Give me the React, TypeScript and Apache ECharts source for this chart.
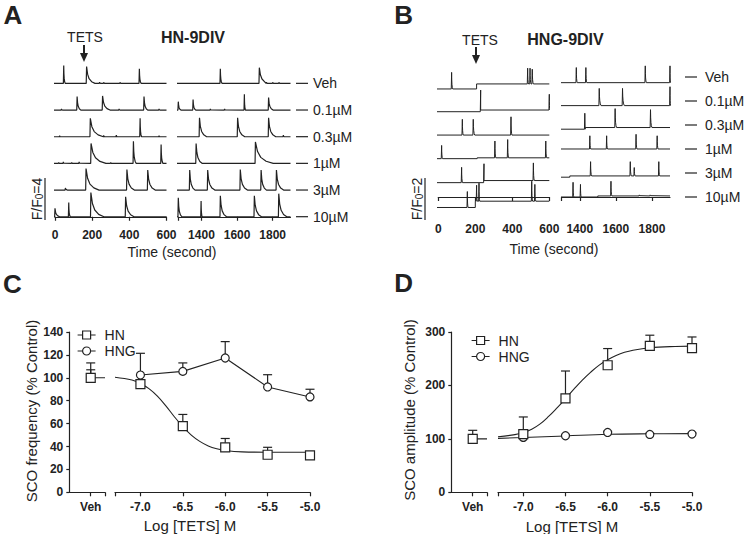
import { useEffect, useRef } from 'react';
import * as echarts from 'echarts';

const FONT = "'Liberation Sans', Arial, Helvetica, sans-serif";
const INK = '#222';

// ---------- Panels A & B: Ca2+ oscillation traces ----------
const CONCENTRATIONS = ['Veh', '0.1µM', '0.3µM', '1µM', '3µM', '10µM'];

type Spike = [number, number, number]; // [time (s), amplitude (ΔF/F0), decay to baseline (s)]
type Step = [number, number]; // [time (s), baseline level (ΔF/F0)]

const A_LEFT_SPIKES: Spike[][] = [
  [[47, 1.7, 8], [170, 1.6, 45], [240, 0.12, 6], [262, 0.1, 6], [350, 0.1, 6], [454, 1.4, 10]],
  [[35, 0.1, 5], [119, 1.3, 20], [256, 1.35, 40], [345, 0.1, 5], [479, 1.3, 20], [560, 0.1, 5]],
  [[25, 0.1, 5], [190, 1.75, 70], [262, 0.12, 5], [330, 0.15, 5], [458, 1.75, 8], [560, 0.1, 5]],
  [[20, 0.1, 5], [45, 0.15, 5], [90, 0.1, 5], [130, 0.15, 5], [194, 1.9, 80], [300, 0.1, 5], [422, 2.1, 15], [571, 1.8, 10]],
  [[56, 0.2, 12], [167, 2.05, 70], [387, 1.95, 40], [499, 1.9, 40]],
  [[0, 0.8, 25], [74, 1.35, 8], [193, 2.3, 70], [380, 1.9, 45]],
];
const A_RIGHT_SPIKES: Spike[][] = [
  [[1506, 1.4, 10], [1725, 1.5, 50], [1765, 0.12, 6], [1800, 0.1, 6], [1835, 0.1, 6]],
  [[1270, 0.8, 15], [1353, 1.0, 15], [1450, 0.1, 5], [1530, 0.1, 5], [1641, 1.5, 6], [1777, 1.2, 25]],
  [[1389, 1.8, 40], [1603, 1.8, 40], [1777, 1.8, 40], [1860, 0.15, 5]],
  [[1370, 1.9, 35], [1703, 2.05, 100]],
  [[1334, 1.9, 30], [1435, 1.9, 40], [1618, 1.95, 40], [1735, 1.9, 30], [1821, 1.9, 40]],
  [[1270, 1.8, 20], [1398, 1.5, 6], [1506, 2.0, 35], [1697, 2.0, 40], [1834, 2.2, 45]],
];

const B_LEFT_SPIKES: Spike[][] = [
  [[72, 0.79, 6], [483, 0.75, 5], [496, 0.75, 5], [508, 0.7, 6]],
  [[229, 0.95, 20], [600, 0.75, 3]],
  [[130, 0.75, 5], [189, 0.75, 8], [393, 0.87, 5]],
  [[18, 0.63, 5], [306, 0.8, 5], [375, 0.87, 5], [581, 0.8, 5]],
  [[126, 0.73, 5], [247, 0.8, 5], [514, 0.84, 5]],
  [[157, 0.76, 4], [207, 0.76, 4], [220, 0.86, 4], [505, 0.95, 5], [522, 0.8, 5]],
];
const B_LEFT_BASE: Step[][] = [
  [[0, -0.57], [207, -0.33]],
  [[0, -0.51], [229, -0.43]],
  [[0, -0.48]],
  [[0, -0.46], [210, -0.42]],
  [[0, -0.46], [247, -0.36]],
  [[0, -0.5], [200, -0.2]],
];
const B_RIGHT_SPIKES: Spike[][] = [
  [[1381, 0.72, 5], [1434, 0.72, 5], [1763, 0.8, 6], [1900, 0.8, 3]],
  [[1508, 0.82, 10], [1637, 0.82, 10], [1900, 0.9, 3]],
  [[1428, 0.76, 8], [1596, 0.9, 8], [1792, 0.85, 8]],
  [[1456, 0.63, 5], [1549, 0.63, 5], [1712, 0.7, 5], [1829, 0.63, 5]],
  [[1460, 0.68, 6], [1680, 0.68, 6], [1702, 0.4, 5], [1838, 0.68, 5]],
  [[1363, 0.7, 4], [1404, 0.6, 4], [1573, 0.7, 5], [1730, 0.05, 4], [1790, 0.05, 4]],
];
const B_RIGHT_BASE: Step[][] = [
  [[1300, -0.27]],
  [[1300, -0.22]],
  [[1300, -0.2], [1430, -0.12]],
  [[1300, 0]],
  [[1300, -0.2], [1345, -0.14]],
  [[1300, 0], [1500, 0.05]],
];

const A_LEFT_RANGE = [0, 600];
const A_RIGHT_RANGE = [1270, 1900];
const B_LEFT_RANGE = [0, 600];
const B_RIGHT_RANGE = [1300, 1900];
const LEFT_TICKS = [0, 200, 400, 600];
const RIGHT_TICK_LABELS = [1400, 1600, 1800];

// ---------- Panels C & D: concentration-response ----------
const LOG_DOSES = [-7.0, -6.5, -6.0, -5.5, -5.0];

const C_VEH_HN = [100, 7]; // [mean, SEM]
const C_VEH_HNG = [100, 13];
const C_HN_MEAN = [94.5, 57.8, 39.3, 32.8, 32.2];
const C_HN_SEM = [3, 10.2, 7.7, 6.5, 1];
const C_HNG_MEAN = [102.4, 105.6, 117.3, 92, 83.3];
const C_HNG_SEM = [19, 7.4, 14.3, 10.7, 6.7];
const C_HN_FIT_X = [-7.3, -7.1, -7.0, -6.9, -6.8, -6.7, -6.6, -6.5, -6.4, -6.3, -6.2, -6.1, -6.0, -5.8, -5.5, -5.0];
const C_HN_FIT_Y = [100.5, 98, 95, 90.5, 84, 75.5, 66, 57.5, 50, 44.5, 40.5, 38, 36.5, 35.3, 35, 35];
const C_Y_TICKS = [0, 140, 20];

const D_VEH_HN = [100, 16];
const D_VEH_HNG = [100, 0];
const D_HN_MEAN = [109, 175.6, 237.8, 274, 270];
const D_HN_SEM = [32, 51.4, 31.2, 20, 20.7];
const D_HNG_MEAN = [102.7, 105.8, 112, 108.3, 109];
const D_HNG_SEM = [2, 2, 2, 2, 2];
const D_HN_FIT_X = [-7.3, -7.1, -7.0, -6.9, -6.8, -6.7, -6.6, -6.5, -6.4, -6.3, -6.2, -6.1, -6.0, -5.9, -5.8, -5.7, -5.5, -5.2, -5.0];
const D_HN_FIT_Y = [104, 108, 112, 118, 128, 142, 158, 175, 193, 210, 225, 238, 248, 256, 262, 266, 270.5, 273, 273.5];
const D_HNG_FIT_X = [-7.3, -7.0, -6.5, -6.0, -5.5, -5.0];
const D_HNG_FIT_Y = [101, 102.5, 105.5, 108.5, 109.5, 109.8];
const D_Y_TICKS = [0, 300, 100];

const LOG_RANGE = [-7.3, -5.0];
const VEH_POS = 0.6; // position of the Veh point inside its short axis segment [0, 1]

// ---------- helpers ----------
const DECAY = [
  [0.12, 0.55],
  [0.3, 0.28],
  [0.6, 0.1],
  [1, 0],
];

function buildTrace(spikes: Spike[], steps: Step[], tMin: number, tMax: number, offset: number) {
  const baseAt = (t: number) => {
    let b = steps[0][1];
    for (const s of steps) if (s[0] <= t) b = s[1];
    return b;
  };
  const evs: any[] = [
    ...spikes.map((s) => ({ t: s[0], kind: 'spike', a: s[1], d: s[2] })),
    ...steps.slice(1).map((s) => ({ t: s[0], kind: 'step' })),
  ].sort((p, q) => p.t - q.t);
  const pts: number[][] = [];
  const push = (t: number, v: number) => {
    if (pts.length && t <= pts[pts.length - 1][0]) return;
    pts.push([t, v + offset]);
  };
  push(tMin - 10, baseAt(tMin));
  evs.forEach((e, i) => {
    const next = i + 1 < evs.length ? evs[i + 1].t : Infinity;
    if (e.kind === 'step') {
      push(e.t - 0.01, baseAt(e.t - 0.01));
      push(e.t + 0.01, baseAt(e.t));
      return;
    }
    push(e.t - 2, baseAt(e.t - 2));
    push(e.t, baseAt(e.t) + e.a);
    for (const [f, k] of DECAY) {
      const tt = e.t + f * e.d;
      if (tt < next - 2) push(tt, baseAt(tt) + e.a * k);
    }
  });
  push(tMax, baseAt(tMax));
  return pts;
}

const zip = (xs: number[], ys: number[]) => xs.map((x, i) => [x, ys[i]]);
const zip3 = (xs: number[], ys: number[], es: number[]) => xs.map((x, i) => [x, ys[i], es[i]]);

function txt(text: string, x: number, y: number, o: any = {}) {
  return {
    type: 'text',
    x,
    y,
    rotation: o.rotation || 0,
    silent: true,
    style: {
      text,
      fill: INK,
      fontFamily: FONT,
      fontSize: o.size || 14,
      fontWeight: o.weight || 'normal',
      align: o.align || 'center',
      verticalAlign: 'middle',
      rich: o.rich,
    },
  };
}
function ln(x1: number, y1: number, x2: number, y2: number, w = 1.2) {
  return { type: 'line', silent: true, shape: { x1, y1, x2, y2 }, style: { stroke: INK, lineWidth: w } };
}

const tickStyle = { lineStyle: { color: INK, width: 1.2 }, length: 4 };
const lineStyleAxis = { lineStyle: { color: INK, width: 1.2 } };
const labelStyle = { color: INK, fontFamily: FONT, fontWeight: 'bold', fontSize: 12 };

function errSeries(data: number[][], idx: number) {
  return {
    type: 'custom',
    xAxisIndex: idx,
    yAxisIndex: idx,
    z: 3,
    silent: true,
    data,
    encode: { x: 0, y: 1 },
    renderItem: (_p: any, api: any) => {
      const x = api.value(0);
      const y = api.value(1);
      const e = api.value(2);
      const p0 = api.coord([x, y]);
      const p1 = api.coord([x, y + e]);
      const st = { stroke: INK, lineWidth: 1.2 };
      return {
        type: 'group',
        children: [
          { type: 'line', shape: { x1: p0[0], y1: p0[1], x2: p1[0], y2: p1[1] }, style: st },
          { type: 'line', shape: { x1: p1[0] - 4.5, y1: p1[1], x2: p1[0] + 4.5, y2: p1[1] }, style: st },
        ],
      };
    },
  };
}

function markerSeries(name: string, data: number[][], idx: number, sq: boolean) {
  return {
    type: 'scatter',
    name,
    xAxisIndex: idx,
    yAxisIndex: idx,
    data,
    symbol: sq ? 'rect' : 'circle',
    symbolSize: sq ? 9 : 8,
    z: sq ? 6 : 5,
    itemStyle: { color: '#fff', borderColor: INK, borderWidth: 1.2, opacity: 1 },
    silent: true,
  };
}

function curveSeries(name: string, data: number[][], idx: number, smooth: boolean) {
  return {
    type: 'line',
    name,
    xAxisIndex: idx,
    yAxisIndex: idx,
    data,
    smooth: smooth ? 0.4 : false,
    symbol: 'none',
    z: 2,
    lineStyle: { color: INK, width: 1.1 },
    silent: true,
  };
}

const HN_ICON = 'path://M0,5L5,5M5,1L13,1L13,9L5,9ZM13,5L18,5';
const HNG_ICON = 'path://M0,5L5,5M5,5A4,4,0,1,1,13,5A4,4,0,1,1,5,5ZM13,5L18,5';

function buildOption() {
  const grids: any[] = [
    { left: 55, top: 48.75, width: 111.5, height: 173.25 }, // A left
    { left: 178.3, top: 48.75, width: 112.2, height: 173.25 }, // A right
    { left: 438.3, top: 39.5, width: 111, height: 176.5 }, // B left
    { left: 561.7, top: 39.5, width: 108.3, height: 176.5 }, // B right
    { left: 69.3, top: 332, width: 35.7, height: 160.3 }, // C veh
    { left: 115, top: 332, width: 195, height: 160.3 }, // C log
    { left: 451.3, top: 332, width: 35.7, height: 160.3 }, // D veh
    { left: 498, top: 332, width: 194, height: 160.3 }, // D log
  ].map((g) => ({ ...g, outerBoundsMode: 'none', containLabel: false }));

  const traceX = (gi: number, range: number[], left: boolean, margin: number) => ({
    gridIndex: gi,
    type: 'value',
    min: range[0],
    max: range[1],
    axisLine: lineStyleAxis,
    axisTick: { ...tickStyle, customValues: left ? LEFT_TICKS : [range[0], ...RIGHT_TICK_LABELS] },
    axisLabel: {
      ...labelStyle,
      margin,
      customValues: left ? LEFT_TICKS : RIGHT_TICK_LABELS,
      formatter: (v: number) => String(v),
    },
    splitLine: { show: false },
  });

  const vehX = (gi: number) => ({
    gridIndex: gi,
    type: 'value',
    min: 0,
    max: 1,
    axisLine: lineStyleAxis,
    axisTick: { ...tickStyle, customValues: [VEH_POS, 1] },
    axisLabel: { ...labelStyle, margin: 9, customValues: [VEH_POS], formatter: () => 'Veh' },
    splitLine: { show: false },
  });
  const logX = (gi: number) => ({
    gridIndex: gi,
    type: 'value',
    min: LOG_RANGE[0],
    max: LOG_RANGE[1],
    axisLine: lineStyleAxis,
    axisTick: { ...tickStyle, customValues: [LOG_RANGE[0], ...LOG_DOSES] },
    axisLabel: { ...labelStyle, margin: 9, customValues: LOG_DOSES, formatter: (v: number) => v.toFixed(1) },
    splitLine: { show: false },
  });

  const A_PX = 10.5; // px per F/F0 unit (F/F0 = 4 -> 42 px)
  const B_PX = 21; // F/F0 = 2 -> 42 px
  const A_ROW = 26.67 / A_PX;
  const B_ROW = 24 / B_PX;

  const hiddenY = (gi: number, min: number, max: number) => ({ gridIndex: gi, type: 'value', min, max, show: false });
  const doseY = (gi: number, t: number[]) => ({
    gridIndex: gi,
    type: 'value',
    min: t[0],
    max: t[1],
    interval: t[2],
    axisLine: { show: true, ...lineStyleAxis },
    axisTick: { show: true, lineStyle: { color: INK, width: 1.2 }, length: 3 },
    axisLabel: { ...labelStyle, margin: 6 },
    splitLine: { show: false },
  });

  const xAxis = [
    traceX(0, A_LEFT_RANGE, true, 7),
    traceX(1, A_RIGHT_RANGE, false, 7),
    traceX(2, B_LEFT_RANGE, true, 7),
    traceX(3, B_RIGHT_RANGE, false, 7),
    vehX(4),
    logX(5),
    vehX(6),
    logX(7),
  ];
  const yAxis = [
    hiddenY(0, -0.5, 16),
    hiddenY(1, -0.5, 16),
    hiddenY(2, -0.905, 7.5),
    hiddenY(3, -0.905, 7.5),
    doseY(4, C_Y_TICKS),
    hiddenY(5, C_Y_TICKS[0], C_Y_TICKS[1]),
    doseY(6, D_Y_TICKS),
    hiddenY(7, D_Y_TICKS[0], D_Y_TICKS[1]),
  ];

  const series: any[] = [];
  // markers first so the legend takes its icon style from them
  series.push(markerSeries('HN', zip(LOG_DOSES, C_HN_MEAN), 5, true));
  series.push(markerSeries('HNG', zip(LOG_DOSES, C_HNG_MEAN), 5, false));
  series.push(markerSeries('HN', [[VEH_POS, C_VEH_HN[0]]], 4, true));
  series.push(markerSeries('HNG', [[VEH_POS, C_VEH_HNG[0]]], 4, false));
  series.push(curveSeries('HN', zip(C_HN_FIT_X, C_HN_FIT_Y), 5, true));
  series.push(curveSeries('HNG', zip(LOG_DOSES, C_HNG_MEAN), 5, false));
  series.push(curveSeries('HN', [[VEH_POS, C_VEH_HN[0]], [1, C_VEH_HN[0]]], 4, false));
  series.push(errSeries(zip3(LOG_DOSES, C_HN_MEAN, C_HN_SEM), 5));
  series.push(errSeries(zip3(LOG_DOSES, C_HNG_MEAN, C_HNG_SEM), 5));
  series.push(errSeries([[VEH_POS, C_VEH_HN[0], C_VEH_HN[1]], [VEH_POS, C_VEH_HNG[0], C_VEH_HNG[1]]], 4));

  series.push(markerSeries('HN', zip(LOG_DOSES, D_HN_MEAN), 7, true));
  series.push(markerSeries('HNG', zip(LOG_DOSES, D_HNG_MEAN), 7, false));
  series.push(markerSeries('HN', [[VEH_POS, D_VEH_HN[0]]], 6, true));
  series.push(markerSeries('HNG', [[VEH_POS, D_VEH_HNG[0]]], 6, false));
  series.push(curveSeries('HN', zip(D_HN_FIT_X, D_HN_FIT_Y), 7, true));
  series.push(curveSeries('HNG', zip(D_HNG_FIT_X, D_HNG_FIT_Y), 7, true));
  series.push(curveSeries('HN', [[VEH_POS, D_VEH_HN[0]], [1, D_VEH_HN[0]]], 6, false));
  series.push(errSeries(zip3(LOG_DOSES, D_HN_MEAN, D_HN_SEM), 7));
  series.push(errSeries(zip3(LOG_DOSES, D_HNG_MEAN, D_HNG_SEM), 7));
  series.push(errSeries([[VEH_POS, D_VEH_HN[0], D_VEH_HN[1]], [VEH_POS, D_VEH_HNG[0], D_VEH_HNG[1]]], 6));

  const traceSeries = (data: number[][], gi: number, w: number) => ({
    type: 'line',
    xAxisIndex: gi,
    yAxisIndex: gi,
    data,
    symbol: 'none',
    silent: true,
    clip: true,
    lineStyle: { color: INK, width: w },
  });
  CONCENTRATIONS.forEach((_c, i) => {
    const aOff = (5 - i) * A_ROW;
    const bOff = (5 - i) * B_ROW;
    series.push(traceSeries(buildTrace(A_LEFT_SPIKES[i], [[A_LEFT_RANGE[0], 0]], A_LEFT_RANGE[0], A_LEFT_RANGE[1], aOff), 0, 1.2));
    series.push(traceSeries(buildTrace(A_RIGHT_SPIKES[i], [[A_RIGHT_RANGE[0], 0]], A_RIGHT_RANGE[0], A_RIGHT_RANGE[1], aOff), 1, 1.2));
    series.push(traceSeries(buildTrace(B_LEFT_SPIKES[i], B_LEFT_BASE[i], B_LEFT_RANGE[0], B_LEFT_RANGE[1], bOff), 2, 1));
    series.push(traceSeries(buildTrace(B_RIGHT_SPIKES[i], B_RIGHT_BASE[i], B_RIGHT_RANGE[0], B_RIGHT_RANGE[1], bOff), 3, 1));
  });

  const legendBase = {
    orient: 'vertical',
    itemWidth: 18,
    itemHeight: 8,
    itemGap: 2,
    selectedMode: false,
    textStyle: { color: INK, fontFamily: FONT, fontSize: 14, lineHeight: 14, padding: [0, 0, 0, 4] },
    itemStyle: { color: '#fff', borderColor: INK, borderWidth: 1.2 },
    data: [
      { name: 'HN', icon: HN_ICON },
      { name: 'HNG', icon: HNG_ICON },
    ],
  };
  const legend = [
    { ...legendBase, left: 72, top: 323 },
    { ...legendBase, left: 466, top: 328.5 },
  ];

  const sub = { s: { fontSize: 10, fontFamily: FONT, fill: INK, verticalAlign: 'bottom', lineHeight: 10 } };
  const graphic: any[] = [
    txt('A', 13, 15, { size: 26, weight: 'bold' }),
    txt('B', 403.7, 14.5, { size: 26, weight: 'bold' }),
    txt('C', 12.5, 284, { size: 26, weight: 'bold' }),
    txt('D', 403.7, 283, { size: 26, weight: 'bold' }),
    txt('TETS', 85, 37, { size: 14 }),
    txt('HN-9DIV', 193, 37, { size: 16, weight: 'bold' }),
    txt('TETS', 480, 39.5, { size: 14 }),
    txt('HNG-9DIV', 565.5, 39.5, { size: 16, weight: 'bold' }),
    ln(84, 45, 84, 55, 2),
    { type: 'polygon', silent: true, shape: { points: [[80, 53], [88, 53], [84, 62]] }, style: { fill: INK } },
    ln(476, 47, 476, 56, 2),
    { type: 'polygon', silent: true, shape: { points: [[472, 55], [480, 55], [476, 64]] }, style: { fill: INK } },
    ln(45, 178, 45, 220, 1.2),
    txt('F/F{s|0}=4', 37, 199, { size: 14, rotation: Math.PI / 2, rich: sub }),
    ln(425, 178, 425, 220, 1.2),
    txt('F/F{s|0}=2', 417, 199, { size: 14, rotation: Math.PI / 2, rich: sub }),
    txt('Time (second)', 172, 251.5, { size: 14 }),
    txt('Time (second)', 554, 248.5, { size: 14 }),
    txt('Log [TETS] M', 190, 525, { size: 15 }),
    txt('Log [TETS] M', 572, 526, { size: 15 }),
    txt('SCO frequency (% Control)', 31.5, 411, { size: 15, rotation: Math.PI / 2 }),
    txt('SCO amplitude (% Control)', 409.5, 410, { size: 15, rotation: Math.PI / 2 }),
  ];
  CONCENTRATIONS.forEach((c, i) => {
    const ya = 216.7 - (5 - i) * 26.67;
    graphic.push(ln(296, ya, 308, ya, 1.2));
    graphic.push(txt(c, 313, ya, { size: 14, align: 'left' }));
    const yb = 77 + 24 * i;
    graphic.push(ln(685, yb, 697, yb, 1.2));
    graphic.push(txt(c, 705, yb, { size: 14, align: 'left' }));
  });

  return {
    animation: false,
    backgroundColor: '#fff',
    textStyle: { fontFamily: FONT, color: INK },
    grid: grids,
    xAxis,
    yAxis,
    legend,
    series,
    graphic,
  };
}

export default function App() {
  const ref = useRef<HTMLDivElement>(null);
  useEffect(() => {
    if (!ref.current) return;
    const chart = echarts.init(ref.current, undefined, { renderer: 'svg' });
    chart.setOption(buildOption() as any);
    return () => chart.dispose();
  }, []);
  return <div ref={ref} style={{ position: 'fixed', left: 0, top: 0, width: 744, height: 534, background: '#fff' }} />;
}
